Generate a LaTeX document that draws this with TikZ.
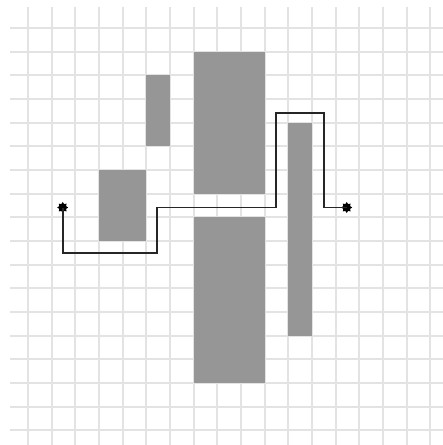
\documentclass[tikz,border=0pt]{standalone}
\usetikzlibrary{shapes.geometric}
\begin{document}
\begin{tikzpicture}[x=1pt,y=-1pt,
  gridline/.style={draw=black!11,line width=2pt},
  block/.style={fill=black!41},
  route/.style={draw=black!85,line width=1.7pt},
  pin/.style={star,star points=8,star point ratio=1.5,fill=black,inner sep=0pt,minimum size=11pt}]
\useasboundingbox (0,0) rectangle (443,445);
\fill[white] (0,0) rectangle (443,445);
% grid
\foreach \k in {0,...,17}{
  \draw[gridline] (10,{28+23.67*\k}) -- (443,{28+23.67*\k});
  \draw[gridline] ({28+23.67*\k},7) -- ({28+23.67*\k},445);
}
% obstacles
\fill[block] (146.3,75.3) rectangle (170,146.3);
\fill[block] (193.7,51.7) rectangle (264.7,193.7);
\fill[block] (193.7,217.3) rectangle (264.7,383);
\fill[block] (99,170) rectangle (146.3,241);
\fill[block] (288.3,122.7) rectangle (312,335.7);
% terminals
\node[pin] (s) at (62.7,207.5) {};
\node[pin] (t) at (346.7,207.5) {};
\draw[route] (s.center) -- (62.7,253.3) -- (156.7,253.3) -- (156.7,207.5) -- (276,207.5) -- (276,113.3) -- (324.3,113.3) -- (324.3,207.5) -- (t.center);
\end{tikzpicture}
\end{document}
